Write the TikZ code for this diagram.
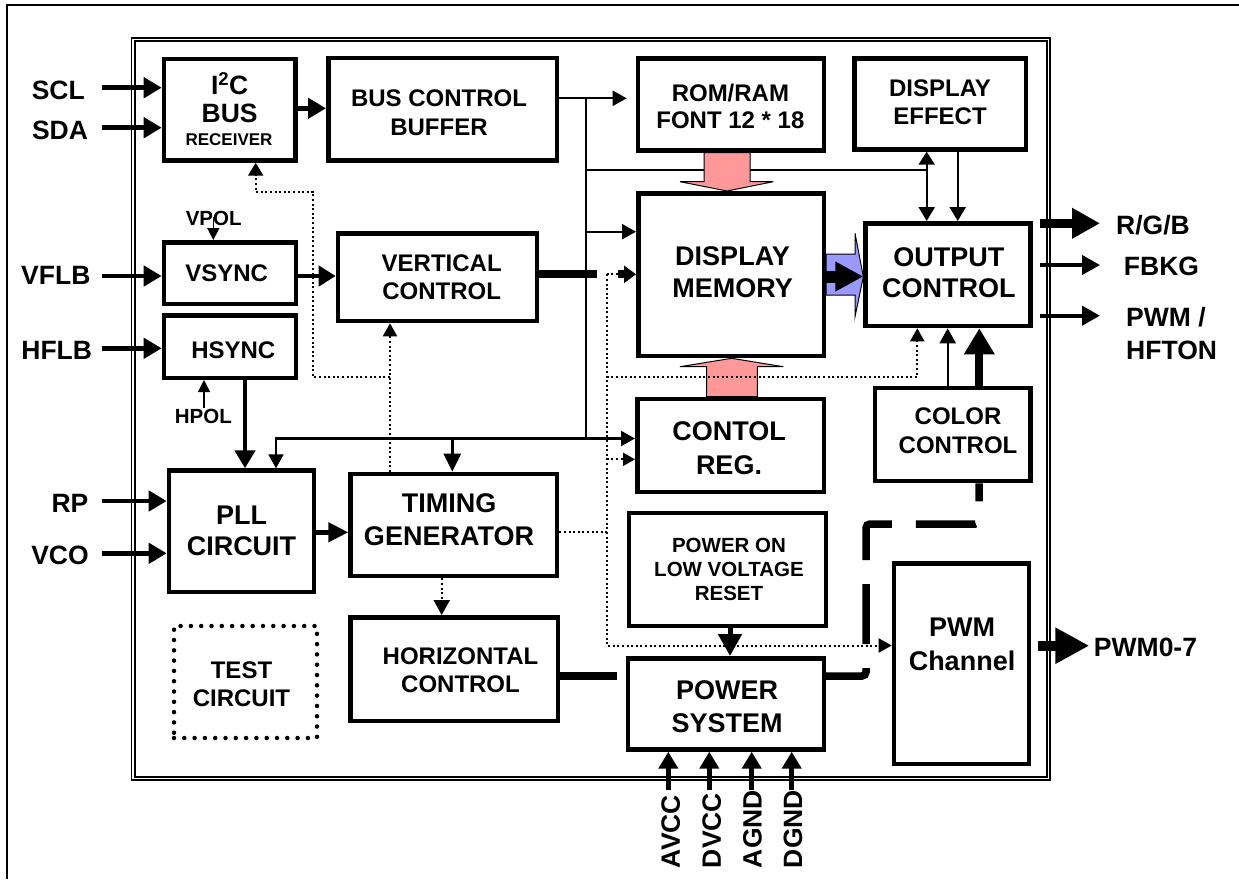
\documentclass[tikz,border=0pt]{standalone}
\usepackage{fontspec}
\setmainfont{Liberation Sans}
\usetikzlibrary{arrows.meta}
\definecolor{pinkA}{HTML}{FF9999}
\definecolor{blueA}{HTML}{9999FF}
\newcommand\fnt[2]{\fontsize{#1}{#2}\selectfont\bfseries}
\newcommand\mkbox[5]{\node[box,minimum width={#4-#2-4.5},minimum height={#5-#3-4.5}] (#1) at ({(#2+#4)/2},{(#3+#5)/2}) {};}
\tikzset{
  tS/.tip={Triangle[length=14pt,width=15pt]},
  tM/.tip={Triangle[length=18pt,width=20pt]},
  tD/.tip={Triangle[length=13pt,width=14pt]},
  tP/.tip={Triangle[length=17pt,width=19pt]},
  tV/.tip={Triangle[length=12pt,width=12pt]},
}
\begin{document}
\begin{tikzpicture}[x=1pt,y=-1pt,
  box/.style={draw, line width=4.5pt, inner sep=0pt},
  txt/.style={inner sep=0pt, align=center},
  lnA/.style={line width=2.2pt},
  lnB/.style={line width=4.5pt},
  lnC/.style={line width=8pt},
  dotl/.style={line width=2pt, dash pattern=on 2pt off 2.6pt},
  blk/.style={draw, line width=1pt}]
\useasboundingbox (0,0) rectangle (1239,879);
% frames
\draw[line width=2pt] (7,879) -- (7,5) -- (1239,5);
\draw[line width=1.6pt] (131.5,37.7) rectangle (1050,780);
\draw[line width=1.6pt] (135,41) rectangle (1046.7,776.7);
% boxes
\mkbox{i2c}{161.7}{56.7}{297.7}{162.7}
\mkbox{bcb}{326}{55.7}{559.3}{162.7}
\mkbox{rom}{635.7}{56}{826}{152.7}
\mkbox{deff}{852.3}{56}{1028.3}{151.7}
\mkbox{dm}{636}{191}{826}{358.3}
\mkbox{oc}{863.3}{221}{1032.7}{328.3}
\mkbox{cc}{872.7}{385.7}{1032.7}{483.3}
\mkbox{cr}{635}{396.7}{826}{494}
\mkbox{vs}{161.7}{240}{298}{306}
\mkbox{hs}{161.7}{313.3}{298}{380}
\mkbox{vc}{335.7}{231}{539.3}{323.3}
\mkbox{pll}{166.7}{468.3}{316}{594}
\mkbox{tg}{348.3}{471.7}{559.3}{578.3}
\mkbox{hc}{348.3}{615}{560}{723.3}
\mkbox{por}{626.7}{510.7}{828.3}{628.3}
\mkbox{ps}{625.7}{656}{826}{751.7}
\mkbox{pwm}{891.7}{561}{1031}{766}
\node[draw, line width=4.5pt, dash pattern=on 0pt off 10.3pt, line cap=round, minimum width=143, minimum height=112] (test) at (245.5,682) {};
% box texts
\node[txt, font=\fnt{26.5}{28}] (ti2c) at (229.7,99) {I\smash{\textsuperscript{2}}C\\BUS};
\node[txt, font=\fnt{17}{20}] (trecv) at (229,140) {RECEIVER};
\node[txt, font=\fnt{24}{29}] (tbcb) at (439,112.5) {BUS CONTROL\\BUFFER};
\node[txt, font=\fnt{24}{27}] (trom) at (730.4,106.5) {ROM/RAM\\FONT 12 * 18};
\node[txt, font=\fnt{24}{28}] (tdeff) at (940,102) {DISPLAY\\EFFECT};
\node[txt, font=\fnt{27}{31.5}] (tdm) at (732.5,272.3) {DISPLAY\\MEMORY};
\node[txt, font=\fnt{27}{31.6}] (toc) at (948.8,272.5) {OUTPUT\\CONTROL};
\node[txt, font=\fnt{24}{28.3}] (tcc) at (958,430.8) {COLOR\\CONTROL};
\node[txt, font=\fnt{27}{33.3}] (tcr) at (729,448.3) {CONTOL\\REG.};
\node[txt, font=\fnt{24}{28}] (tvs) at (226.7,273) {VSYNC};
\node[txt, font=\fnt{24}{28}] (ths) at (233.3,350) {HSYNC};
\node[txt, font=\fnt{24}{28.4}] (tvc) at (441.7,277.5) {VERTICAL\\CONTROL};
\node[txt, font=\fnt{27}{31.7}] (tpll) at (241.5,530.8) {PLL\\CIRCUIT};
\node[txt, font=\fnt{27}{33.3}] (ttg) at (449,520) {TIMING\\GENERATOR};
\node[txt, font=\fnt{24}{28}] (thc) at (460.5,670) {HORIZONTAL\\CONTROL};
\node[txt, font=\fnt{24}{28.3}] (ttest) at (241.5,684.2) {TEST\\CIRCUIT};
\node[txt, font=\fnt{20.5}{24.2}] (tpor) at (729,569.2) {POWER ON\\LOW VOLTAGE\\RESET};
\node[txt, font=\fnt{27}{33.3}] (tps) at (727.2,706.7) {POWER\\SYSTEM};
\node[txt, font=\fnt{27}{33.3}] (tpwm) at (962,644.3) {PWM\\Channel};
\node[txt, font=\fnt{20.5}{24}] (tvpol) at (213.7,218.3) {VPOL};
\node[txt, font=\fnt{20.5}{24}] (thpol) at (203.3,416.7) {HPOL};
% outer labels
\node[txt, font=\fnt{26.5}{30}] (lscl) at (58.3,90.7) {SCL};
\node[txt, font=\fnt{26.5}{30}] (lsda) at (60,130) {SDA};
\node[txt, font=\fnt{26.5}{30}] (lvflb) at (55.8,275) {VFLB};
\node[txt, font=\fnt{26.5}{30}] (lhflb) at (56.7,350) {HFLB};
\node[txt, font=\fnt{26.5}{30}] (lrp) at (70,503.3) {RP};
\node[txt, font=\fnt{26.5}{30}] (lvco) at (60,555) {VCO};
\node[txt, font=\fnt{26.5}{30}] (lrgb) at (1153,225) {R/G/B};
\node[txt, font=\fnt{26.5}{30}] (lfbkg) at (1161.5,266.7) {FBKG};
\node[txt, font=\fnt{26.5}{33.3}, align=left, anchor=west] (lpwmh) at (1126,333.3) {PWM /\\HFTON};
\node[txt, font=\fnt{26.5}{30}] (lpwm07) at (1145.5,647.7) {PWM0-7};
\node[txt, font=\fnt{26.5}{30}, rotate=90, anchor=west] (lavcc) at (670.8,868.3) {AVCC};
\node[txt, font=\fnt{26.5}{30}, rotate=90, anchor=west] (ldvcc) at (711.7,868.3) {DVCC};
\node[txt, font=\fnt{26.5}{30}, rotate=90, anchor=west] (lagnd) at (752.5,868.3) {AGND};
\node[txt, font=\fnt{26.5}{30}, rotate=90, anchor=west] (ldgnd) at (793,868.3) {DGND};
% free-end coordinates
\coordinate (inSCL) at (101.7,87.7);
\coordinate (inSDA) at (101.7,127.7);
\coordinate (inVF) at (101.7,276);
\coordinate (inHF) at (101.7,348.3);
\coordinate (inRP) at (101.7,501);
\coordinate (inVCO) at (101.7,553.3);
\coordinate (romin) at (626.7,98.3);
\coordinate (busT) at (585.7,98.3);
\coordinate (busB) at (585.7,438.5);
\coordinate (deJ) at (926.7,170);
\coordinate (vcend) at (596.7,274.3);
\coordinate (dmst) at (618,274.3);
\coordinate (dT) at (606.7,274.3);
\coordinate (hcend) at (616.7,676);
\coordinate (oRGBs) at (1040,223.3);
\coordinate (oRGBe) at (1100,223.3);
\coordinate (oFBs) at (1040,265);
\coordinate (oFBe) at (1100,265);
\coordinate (oPHs) at (1040,315.7);
\coordinate (oPHe) at (1100,315.7);
\coordinate (oPWs) at (1038.3,645.7);
\coordinate (oPWe) at (1089.3,645.7);
\coordinate (pA) at (668.3,790);
\coordinate (pD) at (709.3,790);
\coordinate (pG) at (751.7,790);
\coordinate (pH) at (791.7,790);
\coordinate (vpolS) at (213.3,216.7);
\coordinate (hpolS) at (204,408);
% inputs
\draw[lnB,-tM] (inSCL) -- (inSCL -| i2c.west);
\draw[lnB,-tM] (inSDA) -- (inSDA -| i2c.west);
\draw[lnB,-tM] (inVF) -- (inVF -| vs.west);
\draw[lnB,-tM] (inHF) -- (inHF -| hs.west);
\draw[lnB,-tM] (inRP) -- (inRP -| pll.west);
\draw[lnB,-tM] (inVCO) -- (inVCO -| pll.west);
\draw[line width=1.5pt,-tV] (vpolS) -- (vs.north -| vpolS);
\draw[line width=1.5pt,-tV] (hpolS) -- (hs.south -| hpolS);
% solid connectors
\draw[lnB,-tM] (i2c.east |- 0,108.3) -- (bcb.west |- 0,108.3);
\draw[lnA,-tS] (bcb.east |- romin) -- (romin);
\draw[lnA] (busT) -- (busB);
\draw[lnA] (busT |- deJ) -- (deJ);
\draw[lnA,{Triangle[length=13pt,width=16pt]}-{Triangle[length=14pt,width=16pt]}] (deff.south -| deJ) -- (oc.north -| deJ);
\draw[lnA,-{Triangle[length=14pt,width=16pt]}] (deff.south -| 957.7,0) -- (oc.north -| 957.7,0);
\draw[lnA,-tS] (busT |- 0,231.7) -- (dm.west |- 0,231.7);
\draw[lnA,tS-tS] (pll.north -| 276,0) |- (cr.west |- busB);
\draw[line width=2.8pt,-{Triangle[length=18pt,width=17pt]}] (452.3,438.5) -- (tg.north -| 452.3,0);
\draw[lnB,-{Triangle[length=17pt,width=20pt]}] (vs.east |- inVF) -- (vc.west |- inVF);
\draw[lnC] (vc.east |- vcend) -- (vcend);
\draw[lnC,-{Triangle[length=12pt,width=17pt]}] (dmst) -- (dm.west |- dmst);
\draw[lnB,-tM] (hs.south -| 245,0) -- (pll.north -| 245,0);
\draw[lnB,-{Triangle[length=20pt,width=19pt]}] (pll.east |- 0,532.3) -- (tg.west |- 0,532.3);
\draw[lnC] (hc.east |- hcend) -- (hcend);
\draw[line width=5pt,-{Triangle[length=22pt,width=23pt]}] (por.south -| 730,0) -- (ps.north -| 730,0);
\draw[line width=7.5pt, dash pattern=on 60pt off 24pt, dash phase=14pt, rounded corners=4pt] (ps.east |- hcend) -| (866,524) -- (979,524) -- (cc.south -| 979,0);
\draw[lnA,-{Triangle[length=15pt,width=16pt]}] (cc.north -| 947.7,0) -- (oc.south -| 947.7,0);
\draw[lnC,-{Triangle[length=26pt,width=29pt]}] (cc.north -| 979.3,0) -- (oc.south -| 979.3,0);
% outputs
\draw[line width=9pt,-{Triangle[length=28pt,width=29pt]}] (oRGBs) -- (oRGBe);
\draw[line width=4pt,-{Triangle[length=18pt,width=19pt]}] (oFBs) -- (oFBe);
\draw[line width=4pt,-{Triangle[length=18pt,width=19pt]}] (oPHs) -- (oPHe);
\draw[line width=10pt,-{Triangle[length=34pt,width=34pt]}] (oPWs) -- (oPWe);
\draw[lnB,-tP] (pA) -- (ps.south -| pA);
\draw[lnB,-tP] (pD) -- (ps.south -| pD);
\draw[lnB,-tP] (pG) -- (ps.south -| pG);
\draw[lnB,-tP] (pH) -- (ps.south -| pH);
% block arrows
\draw[blk, fill=blueA] (dm.east |- 0,254) -- (855,254) -- (855,233.3) -- (oc.west |- 0,276.7) -- (855,316.7) -- (855,295) -- (dm.east |- 0,295) -- cycle;
\draw[line width=12pt,-{Triangle[length=28pt,width=28pt]}] (dm.east |- 0,276.5) -- (oc.west |- 0,276.5);
\draw[blk, fill=pinkA] (rom.south -| 704,0) -- (704,181.7) -- (680,181.7) -- (dm.north -| 727,0) -- (773.3,181.7) -- (750,181.7) -- (rom.south -| 750,0) -- cycle;
\draw[blk, fill=pinkA] (cr.north -| 706.7,0) -- (706.7,366.7) -- (680,366.7) -- (dm.south -| 731.7,0) -- (783.3,366.7) -- (757.3,366.7) -- (cr.north -| 757.3,0) -- cycle;
% dotted network
\draw[dotl] (dmst) -- (dT);
\draw[dotl,-tD] (dT) |- (pwm.west |- 0,645.5);
\draw[dotl] (tg.east |- 0,532.3) -- (dT |- 0,532.3);
\draw[dotl,-tD] (dT |- 0,376.7) -| (oc.south -| 917.3,0);
\draw[dotl,-{Triangle[length=12pt,width=13pt]}] (dT |- 0,459.3) -- (cr.west |- 0,459.3);
\draw[dotl,-tD] (tg.north -| 390,0) -- (vc.south -| 390,0);
\draw[dotl,-{Triangle[length=13pt,width=15pt]}] (390,377.3) -| (313.3,191.7) -| (i2c.south -| 255.7,0);
\draw[dotl,-{Triangle[length=15pt,width=16pt]}] (tg.south -| 441.7,0) -- (hc.north -| 441.7,0);
\end{tikzpicture}
\end{document}
